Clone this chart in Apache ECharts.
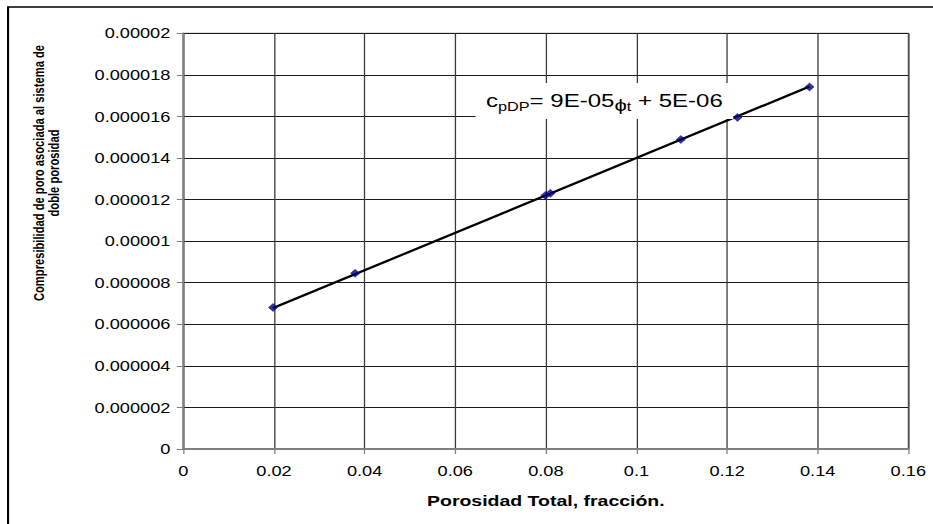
<!DOCTYPE html>
<html>
<head>
<meta charset="utf-8">
<script src="https://cdn.jsdelivr.net/npm/echarts@6/dist/echarts.min.js"></script>
<style>
  html, body { margin: 0; padding: 0; background: #fff; }
  #marco { width: 933px; height: 524px; overflow: hidden; position: relative; }
  /* the chart is laid out narrower and widened, giving the broad lettering and flattened diamonds */
  #grafico { width: 718px; height: 524px; transform: scaleX(1.29944); transform-origin: 0 0; }
</style>
</head>
<body>
<div id="marco"><div id="grafico"></div></div>
<script>
// Porosidad total (fracción) y compresibilidad de poro del sistema de doble porosidad
const porosidadTotal = [0.0198, 0.0379, 0.0799, 0.0810, 0.1098, 0.1223, 0.1382];
const compresibilidad = [6.81e-6, 8.45e-6, 12.2e-6, 12.3e-6, 14.89e-6, 15.95e-6, 17.42e-6];

// Tendencia lineal: c_pDP = 9E-05·phi_t + 5E-06
const pendiente = 9e-5;
const intercepto = 5e-6;

const xTickLabels = ['0', '0.02', '0.04', '0.06', '0.08', '0.1', '0.12', '0.14', '0.16'];
const yTickLabels = ['0', '0.000002', '0.000004', '0.000006', '0.000008', '0.00001',
                     '0.000012', '0.000014', '0.000016', '0.000018', '0.00002'];

const puntos = porosidadTotal.map((x, i) => [x, compresibilidad[i]]);
const xMin = Math.min.apply(null, porosidadTotal);
const xMax = Math.max.apply(null, porosidadTotal);
const tendencia = [xMin, xMax].map(x => [x, pendiente * x + intercepto]);

const fuente = "'Liberation Sans', Arial, 'DejaVu Sans', sans-serif";

const chart = echarts.init(document.getElementById('grafico'), null, { renderer: 'svg' });

chart.setOption({
  animation: false,
  backgroundColor: '#fff',
  grid: {
    left: 141.1, right: 19, top: 33.3, bottom: 75,
    show: true, borderColor: '#808080', borderWidth: 1, backgroundColor: 'transparent'
  },
  xAxis: {
    type: 'value', min: 0, max: 0.16, interval: 0.02,
    name: 'Porosidad Total, fracción.',
    nameLocation: 'middle', nameGap: 44,
    nameTextStyle: { fontFamily: fuente, fontWeight: 'bold', fontSize: 15, color: '#000' },
    axisLine: { show: true, onZero: false, lineStyle: { color: '#808080', width: 2 } },
    axisTick: { show: true, length: 5, lineStyle: { color: '#808080', width: 1 } },
    axisLabel: {
      margin: 15, fontFamily: fuente, fontSize: 14, color: '#000',
      formatter: v => xTickLabels[Math.round(v / 0.02)]
    },
    splitLine: { show: true, lineStyle: { color: '#3a3a3a', width: 1 } }
  },
  yAxis: {
    type: 'value', min: 0, max: 0.00002, interval: 0.000002,
    axisLine: { show: true, onZero: false, lineStyle: { color: '#808080', width: 1.5 } },
    axisTick: { show: true, length: 5, lineStyle: { color: '#808080', width: 1 } },
    axisLabel: {
      margin: 10, fontFamily: fuente, fontSize: 14, color: '#000',
      formatter: v => yTickLabels[Math.round(v / 0.000002)]
    },
    splitLine: { show: true, lineStyle: { color: '#1a1a1a', width: 1 } }
  },
  series: [
    {
      name: 'Tendencia',
      type: 'line',
      data: tendencia,
      symbol: 'none',
      lineStyle: { color: '#000', width: 2.2 },
      z: 2,
      silent: true
    },
    {
      name: 'Datos',
      type: 'scatter',
      data: puntos,
      symbol: 'diamond',
      symbolSize: [7, 8],
      itemStyle: { color: '#000080', borderColor: '#000080', borderWidth: 0.5 },
      z: 3
    }
  ],
  graphic: [
    {
      type: 'rect',
      shape: { x: 6.2, y: 7, width: 1000, height: 1000 },
      style: { fill: 'none', stroke: '#000', lineWidth: 1.6 },
      silent: true,
      z: 50
    },
    {
      type: 'text',
      x: 35.8, y: 173,
      rotation: Math.PI / 2,
      style: {
        text: 'Compresibilidad de poro asociada al sistema de\ndoble porosidad',
        fontFamily: fuente, fontWeight: 'bold', fontSize: 11.2, lineHeight: 11.2,
        fill: '#000', align: 'center', verticalAlign: 'middle'
      },
      z: 50
    },
    {
      type: 'text',
      x: 366, y: 83,
      style: {
        text: '{c|c}{s|pDP}{n|= 9E-05}{p|ϕ}{s|t}{n| + 5E-06}',
        align: 'left', verticalAlign: 'top',
        backgroundColor: '#fff',
        padding: [6, 8, 6, 8],
        rich: {
          c: { fontFamily: fuente, fontSize: 18.5, lineHeight: 24, fill: '#000', verticalAlign: 'middle' },
          n: { fontFamily: fuente, fontSize: 18.5, lineHeight: 24, fill: '#000', verticalAlign: 'middle' },
          p: { fontFamily: fuente, fontSize: 17, lineHeight: 21, fill: '#000', verticalAlign: 'bottom' },
          s: { fontFamily: fuente, fontSize: 12.5, lineHeight: 12, fill: '#000', verticalAlign: 'bottom' }
        }
      },
      z: 60
    }
  ]
});
</script>
</body>
</html>
